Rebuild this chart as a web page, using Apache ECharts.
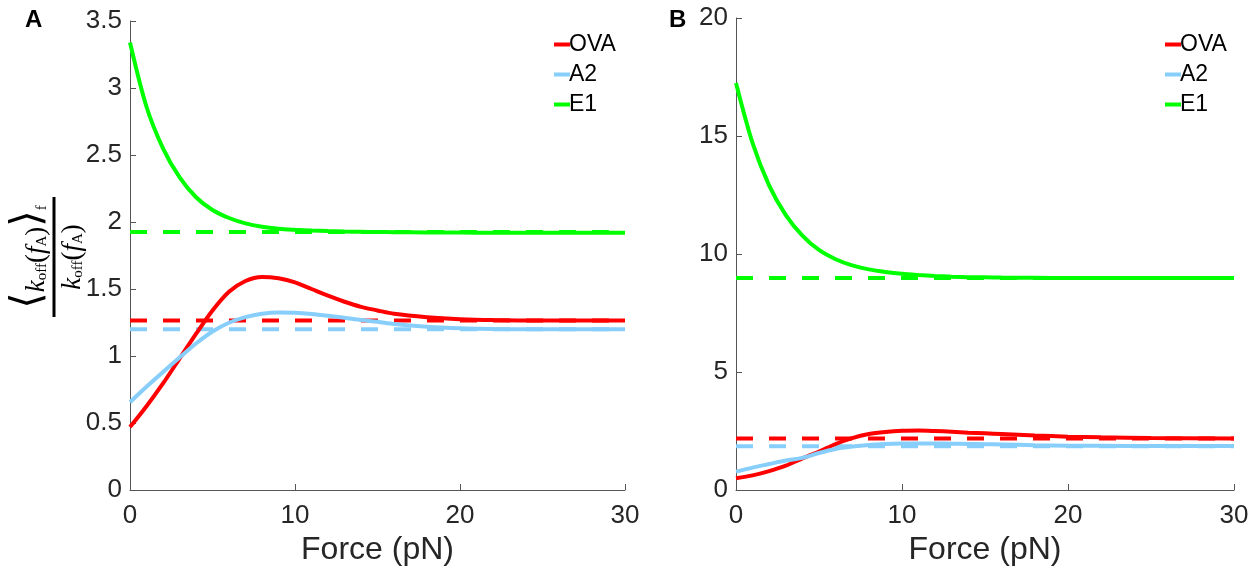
<!DOCTYPE html>
<html>
<head>
<meta charset="utf-8">
<script src="https://cdn.jsdelivr.net/npm/echarts@6/dist/echarts.min.js"></script>
<style>
html,body{margin:0;padding:0;background:#fff;}
#c{width:1257px;height:571px;}
</style>
</head>
<body>
<div id="c"></div>
<script>
// ---- data ----
const force = [0,1,2,3,4,5,6,7,8,9,10,11,12,13,14,15,16,18,20,22,25,30];
const forceRange = [0, 30];
const xTicks = [0, 10, 20, 30];

// Panel A
const ovaA = [0.47,0.625,0.795,0.98,1.165,1.34,1.48,1.56,1.59,1.58,1.55,1.50,1.45,1.405,1.367,1.34,1.315,1.29,1.275,1.268,1.265,1.265];
const a2A  = [0.655,0.77,0.88,0.988,1.093,1.183,1.248,1.29,1.315,1.325,1.322,1.313,1.30,1.285,1.268,1.255,1.238,1.218,1.207,1.202,1.20,1.20];
const e1A  = [3.34,2.86,2.55,2.335,2.185,2.09,2.03,1.99,1.965,1.95,1.942,1.936,1.932,1.929,1.927,1.925,1.924,1.922,1.921,1.92,1.92,1.92];
const avgA = {OVA: 1.265, A2: 1.20, E1: 1.925};

// Panel B
const ovaB = [0.5,0.62,0.8,1.03,1.34,1.63,1.95,2.2,2.37,2.46,2.51,2.52,2.5,2.47,2.43,2.4,2.37,2.31,2.26,2.23,2.2,2.18];
const a2B  = [0.78,0.95,1.1,1.25,1.36,1.57,1.74,1.84,1.91,1.95,1.97,1.975,1.97,1.96,1.95,1.94,1.93,1.9,1.88,1.87,1.86,1.86];
const e1B  = [17.25,14.7,12.9,11.65,10.78,10.17,9.78,9.52,9.35,9.24,9.16,9.11,9.07,9.04,9.02,9.01,9.0,8.99,8.98,8.98,8.98,8.98];
const avgB = {OVA: 2.18, A2: 1.85, E1: 8.98};

const names = ['OVA','A2','E1'];
const colors = {OVA:'#ff0000', A2:'#87cefa', E1:'#00ff00'};

// ---- build ----
const pair = (xs, ys) => xs.map((x,i)=>[x, ys[i]]);
const chart = echarts.init(document.getElementById('c'), null, {renderer:'canvas'});
const FONT = 'Liberation Sans, Arial, Helvetica, sans-serif';

function xAxis(gi){
  return {
    gridIndex: gi, type:'value', min: forceRange[0], max: forceRange[1], interval: 10,
    name: 'Force (pN)', nameLocation:'middle', nameGap: 44,
    nameTextStyle:{fontSize:32, color:'#262626', fontFamily:FONT},
    axisLine:{show:true, lineStyle:{color:'#555', width:1}},
    axisTick:{show:true, inside:true, length:6, lineStyle:{color:'#555'}},
    axisLabel:{fontSize:26, color:'#262626', fontFamily:FONT, margin:13},
    splitLine:{show:false}
  };
}
function yAxis(gi, max, interval){
  return {
    gridIndex: gi, type:'value', min:0, max:max, interval:interval,
    axisLine:{show:true, lineStyle:{color:'#555', width:1}},
    axisTick:{show:true, inside:true, length:6, lineStyle:{color:'#555'}},
    axisLabel:{fontSize:26, color:'#262626', fontFamily:FONT, margin:8},
    splitLine:{show:false}
  };
}

const series = [];
function addPanel(gi, data, avg){
  names.forEach(n=>{
    series.push({
      name:n, type:'line', xAxisIndex:gi, yAxisIndex:gi,
      data: pair(force, data[n]), smooth:0.3, showSymbol:false, symbol:'none',
      lineStyle:{color:colors[n], width:4}, itemStyle:{color:colors[n]}, z:3
    });
  });
  names.forEach(n=>{
    series.push({
      name:n+' mean', type:'line', xAxisIndex:gi, yAxisIndex:gi,
      data: [[forceRange[0], avg[n]],[forceRange[1], avg[n]]], showSymbol:false, symbol:'none',
      lineStyle:{color:colors[n], width:4, type:[17,16]}, itemStyle:{color:colors[n]}, z:2
    });
  });
}
addPanel(0, {OVA:ovaA, A2:a2A, E1:e1A}, avgA);
addPanel(1, {OVA:ovaB, A2:a2B, E1:e1B}, avgB);

function legend(left){
  return {
    data: names.map(n=>({name:n, itemStyle:{color:colors[n]}})),
    orient:'vertical', left:left, top:27, icon:'rect', itemWidth:16, itemHeight:4, itemGap:5,
    textStyle:{fontSize:23, color:'#000', fontFamily:FONT, lineHeight:25, padding:[0,0,0,-6]},
    selectedMode:false
  };
}

const serif = 'Liberation Serif, DejaVu Serif, serif';
const option = {
  backgroundColor:'#fff',
  animation:false,
  grid:[
    {left:130, top:21, width:495, height:471},
    {left:736, top:18, width:498, height:475}
  ],
  xAxis:[xAxis(0), xAxis(1)],
  yAxis:[yAxis(0, 3.5, 0.5), yAxis(1, 20, 5)],
  legend:[legend(549), legend(1160)],
  series: series,
  graphic:[
    {type:'text', left:25, top:8, style:{text:'A', font:'bold 24px '+FONT, fill:'#000'}},
    {type:'text', left:669, top:8, style:{text:'B', font:'bold 24px '+FONT, fill:'#000'}},
    {type:'group', x:54, y:257, rotation:Math.PI/2, children:[
      {type:'rect', shape:{x:-60, y:-1.5, width:120, height:3}, style:{fill:'#000'}},
      {type:'text', x:0, y:-4, style:{
        text:'{br|⟨}{k|k}{s|off}{p|(}{k|f}{s|A}{p|)}{br|⟩}{s|f}',
        align:'center', verticalAlign:'bottom', fill:'#000',
        rich:{
          br:{fontSize:42, fontFamily:serif, lineHeight:42, verticalAlign:'bottom'},
          k:{fontSize:27, fontFamily:serif, fontStyle:'italic', lineHeight:35, verticalAlign:'bottom'},
          p:{fontSize:27, fontFamily:serif, lineHeight:35, verticalAlign:'bottom'},
          s:{fontSize:15, fontFamily:serif, lineHeight:27, verticalAlign:'bottom'}
        }
      }},
      {type:'text', x:0, y:2, style:{
        text:'{k|k}{s|off}{p|(}{k|f}{s|A}{p|)}',
        align:'center', verticalAlign:'top', fill:'#000',
        rich:{
          k:{fontSize:27, fontFamily:serif, fontStyle:'italic', lineHeight:30, verticalAlign:'bottom'},
          p:{fontSize:27, fontFamily:serif, lineHeight:30, verticalAlign:'bottom'},
          s:{fontSize:15, fontFamily:serif, lineHeight:22, verticalAlign:'bottom'}
        }
      }}
    ]}
  ]
};
chart.setOption(option);
</script>
</body>
</html>
